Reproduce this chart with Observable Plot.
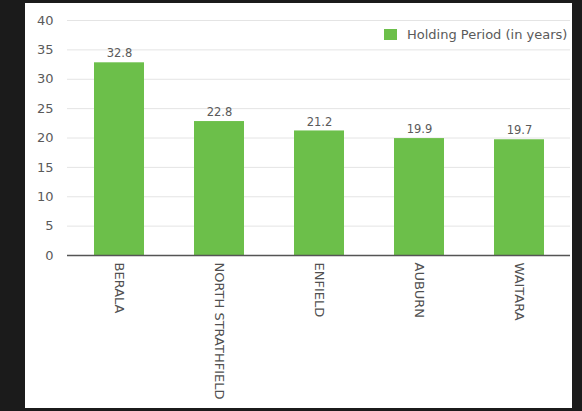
<!DOCTYPE html>
<html>
<head>
<meta charset="utf-8">
<script src="https://cdn.jsdelivr.net/npm/d3@7"></script>
<script src="https://cdn.jsdelivr.net/npm/@observablehq/plot@0.6"></script>
<style>
  html, body { margin: 0; padding: 0; background: #1b1b1b; width: 582px; height: 411px; overflow: hidden; }
  #panel { position: absolute; left: 25px; top: 3px; width: 547px; height: 405px; background: #fff; }
  #legend { position: absolute; left: 359px; top: 24px; display: flex; align-items: center; font-family: "DejaVu Sans", sans-serif; font-size: 13px; color: #5a5a5a; }
  #legend .sw { width: 13px; height: 11px; background: #6cbf4a; margin-right: 10px; }
  svg { font-family: "DejaVu Sans", sans-serif; }
</style>
</head>
<body>
<div id="panel"><div id="legend"><div class="sw"></div><span>Holding Period (in years)</span></div></div>
<script>
const suburbs = ["BERALA", "NORTH STRATHFIELD", "ENFIELD", "AUBURN", "WAITARA"];
const holdingYears = [32.8, 22.8, 21.2, 19.9, 19.7];
const yTicks = [0, 5, 10, 15, 20, 25, 30, 35, 40];
const seriesName = "Holding Period (in years)";

const data = suburbs.map((s, i) => ({suburb: s, value: holdingYears[i]}));

const chart = Plot.plot({
  width: 547,
  height: 405,
  marginLeft: 42,
  marginRight: 2,
  marginTop: 17,
  marginBottom: 153,
  style: {background: "transparent", fontSize: "12px", color: "#555"},
  x: {domain: suburbs, paddingInner: 0.5, paddingOuter: 0.25, align: 0.5, label: null},
  y: {domain: [0, 40], label: null},
  marks: [
    Plot.gridY(yTicks, {stroke: "#e4e4e4", strokeOpacity: 1, strokeWidth: 1}),
    Plot.axisY(yTicks, {tickSize: 0, tickPadding: 14, fontSize: 13, fill: "#5a5a5a", label: null}),
    Plot.barY(data, {x: "suburb", y: "value", fill: "#6cbf4a"}),
    Plot.ruleY([0], {stroke: "#555", strokeWidth: 1.5}),
    Plot.text(data, {x: "suburb", y: "value", text: d => d.value.toFixed(1), dy: -9, fontSize: 11.5, fill: "#5a5a5a"}),
    Plot.axisX({tickSize: 0, tickPadding: 7, tickRotate: 90, fontSize: 13, fill: "#505050", label: null})
  ]
});
document.getElementById("panel").appendChild(chart);
chart.style.position = "absolute";
chart.style.left = "0px";
chart.style.top = "0px";
</script>
</body>
</html>
